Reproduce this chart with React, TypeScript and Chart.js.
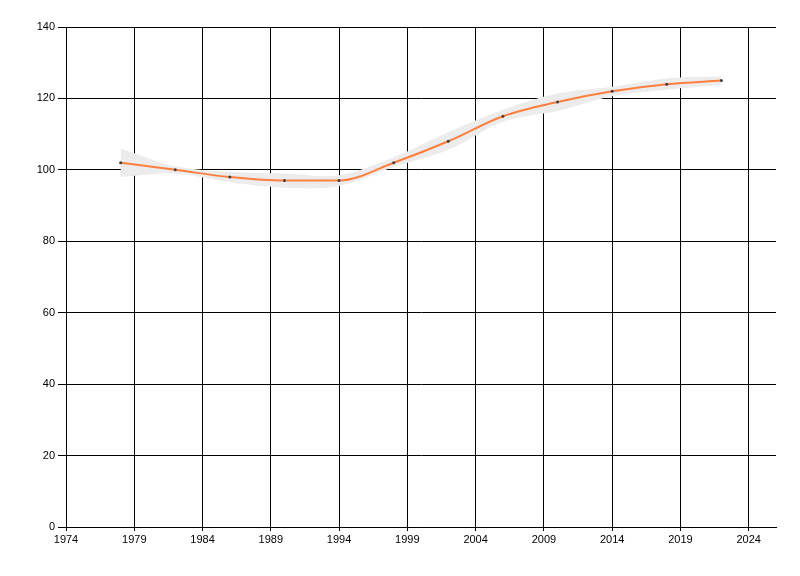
import React, { useEffect, useRef } from "react";
import { Chart, registerables } from "chart.js";

Chart.register(...registerables);

const years = [1978, 1982, 1986, 1990, 1994, 1998, 2002, 2006, 2010, 2014, 2018, 2022];
const values = [102, 100, 98, 97, 97, 102, 108, 115, 119, 122, 124, 125];
const upper = [106, 101, 99.5, 99, 98.5, 103.5, 110.5, 116.8, 121.4, 123.3, 125.6, 126.2];
const lower = [98, 99, 96.5, 95, 95.5, 100.8, 105.6, 113.5, 116.5, 120.6, 122.4, 123.8];
const xTicks = [1974, 1979, 1984, 1989, 1994, 1999, 2004, 2009, 2014, 2019, 2024];
const yTicks = [0, 20, 40, 60, 80, 100, 120, 140];

export default function App() {
  const ref = useRef<HTMLCanvasElement | null>(null);
  useEffect(() => {
    if (!ref.current) return;
    const pts = (arr: number[]) => years.map((y, i) => ({ x: y, y: arr[i] }));
    const chart = new Chart(ref.current, {
      type: "line",
      data: {
        datasets: [
          {
            data: pts(values),
            borderColor: "#ff7f3f",
            borderWidth: 2,
            pointRadius: 1.5,
            pointBackgroundColor: "#404040",
            pointBorderWidth: 0,
            cubicInterpolationMode: "monotone",
            fill: false,
          },
          {
            data: pts(upper),
            borderWidth: 0,
            borderColor: "rgba(0,0,0,0)",
            pointRadius: 0,
            tension: 0.35,
            fill: false,
          },
          {
            data: pts(lower),
            borderWidth: 0,
            borderColor: "rgba(0,0,0,0)",
            backgroundColor: "#ececec",
            pointRadius: 0,
            tension: 0.35,
            fill: 1,
          },
        ],
      },
      options: {
        responsive: false,
        animation: false,
        layout: { padding: { left: 0, top: 27, right: 24, bottom: 0 } },
        plugins: { legend: { display: false }, tooltip: { enabled: false } },
        scales: {
          x: {
            type: "linear",
            min: 1974,
            max: 2026,
            afterBuildTicks: (s: any) => {
              s.ticks = xTicks.map((v) => ({ value: v }));
            },
            afterFit: (s: any) => {
              s.height = 49;
            },
            grid: { color: "#000", lineWidth: 1, tickLength: 4, drawTicks: true },
            border: { color: "#000", width: 1 },
            ticks: {
              color: "#000",
              font: { family: "Liberation Sans", size: 11 },
              padding: 2,
              maxRotation: 0,
              autoSkip: false,
              callback: (v: any) => String(v),
            },
          },
          y: {
            min: 0,
            max: 140,
            afterBuildTicks: (s: any) => {
              s.ticks = yTicks.map((v) => ({ value: v }));
            },
            afterFit: (s: any) => {
              s.width = 66;
            },
            grid: { color: "#000", lineWidth: 1, tickLength: 8, drawTicks: true },
            border: { color: "#000", width: 1 },
            ticks: {
              color: "#000",
              font: { family: "Liberation Sans", size: 11 },
              padding: 3,
              autoSkip: false,
              callback: (v: any) => String(v),
            },
          },
        },
      },
    });
    return () => chart.destroy();
  }, []);
  return (
    <div style={{ position: "absolute", left: 0, top: 0, width: 800, height: 576, background: "#fff" }}>
      <canvas ref={ref} width={800} height={576} />
    </div>
  );
}
